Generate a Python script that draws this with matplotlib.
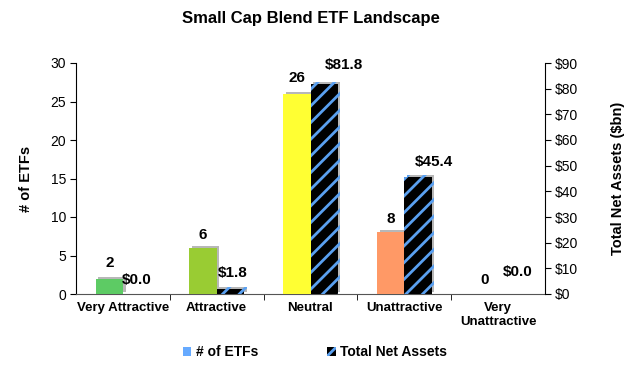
import matplotlib
matplotlib.use("Agg")
import matplotlib.pyplot as plt
import matplotlib.patheffects as pe
from matplotlib.patches import Patch
import numpy as np

categories = ["Very Attractive", "Attractive", "Neutral", "Unattractive", "Very\nUnattractive"]
num_etfs = [2, 6, 26, 8, 0]
net_assets = [0.0, 1.8, 81.8, 45.4, 0.0]
bar_colors = ["#5DCB64", "#99CC33", "#FFFF33", "#FF9966", "#FF3333"]

plt.rcParams['font.family'] = ['Liberation Sans', 'DejaVu Sans']
plt.rcParams['hatch.linewidth'] = 2.0

fig = plt.figure(figsize=(6.3, 3.68), dpi=100)
ax = fig.add_axes([76/630, 1 - 294/368, 469/630, 231/368])
ax2 = ax.twinx()

x = np.arange(len(categories))
w = 0.29
shadow = [pe.SimplePatchShadow(offset=(2, 1.5), shadow_rgbFace='#999999', alpha=0.7), pe.Normal()]

b1 = ax.bar(x - w/2, num_etfs, w, color=bar_colors, linewidth=0, zorder=3)
for b in b1:
    b.set_path_effects(shadow)
b2 = ax2.bar(x + w/2, net_assets, w, facecolor='black', edgecolor='#5AA0F0', hatch='//', linewidth=0, zorder=3)
for b in b2:
    b.set_path_effects(shadow)

# label offsets in points (style only)
count_dy = [11, 9, 11.5, 10, 10]
asset_dx = [0, 2, 14, 11.5, 4]
asset_dy = [10, 11.5, 14, 11, 16]
for xi, v, dy in zip(x, num_etfs, count_dy):
    ax.annotate(f"{v}", (xi - w/2, v), xytext=(0, dy), textcoords='offset points',
                ha='center', va='center', fontsize=11, fontweight='bold')
for xi, v, dx, dy in zip(x, net_assets, asset_dx, asset_dy):
    ax2.annotate(f"${v:.1f}", (xi + w/2, v), xytext=(dx, dy), textcoords='offset points',
                 ha='center', va='center', fontsize=11, fontweight='bold')

ax.set_xlim(-0.5, len(categories) - 0.5)
ax.set_ylim(0, 30)
ax2.set_ylim(0, 90)
ax.set_yticks(range(0, 31, 5))
ax2.set_yticks(range(0, 91, 10))
ax2.set_yticklabels([f"${v}" for v in range(0, 91, 10)])
ax.tick_params(axis='y', labelsize=10, length=4, direction='out', pad=3)
ax2.tick_params(axis='y', labelsize=10, length=4, direction='out', pad=3)

ax.set_xticks(x)
ax.set_xticklabels(categories, fontsize=9.5, fontweight='bold')
ax.tick_params(axis='x', length=0, pad=6)
ax.set_xticks(np.arange(0.5, len(categories) - 0.5, 1), minor=True)
ax.tick_params(axis='x', which='minor', length=4, direction='out')

for a in (ax, ax2):
    a.spines['top'].set_visible(False)
ax.spines['right'].set_visible(False)
ax2.spines['left'].set_visible(False)
ax2.spines['bottom'].set_visible(False)
ax.spines['bottom'].set_color('#555555')

ax.set_ylabel("# of ETFs", fontsize=10.5, fontweight='bold', labelpad=13)
ax2.set_ylabel("Total Net Assets ($bn)", fontsize=10.5, fontweight='bold', labelpad=24)
fig.text((76 + 545) / 2 / 630, 1 - 18 / 368, "Small Cap Blend ETF Landscape",
         ha='center', va='center', fontsize=12, fontweight='bold')

handles = [Patch(facecolor='#66AAFF', linewidth=0),
           Patch(facecolor='black', edgecolor='#5AA0F0', hatch='//', linewidth=0)]
fig.legend(handles, ["# of ETFs", "Total Net Assets"], loc='center', bbox_to_anchor=(0.5, 1 - 352 / 368),
           ncol=2, frameon=False, prop={'weight': 'bold', 'size': 10},
           handlelength=0.6, handleheight=0.6, handletextpad=0.3, columnspacing=5)

fig.savefig("out.png", dpi=100)
